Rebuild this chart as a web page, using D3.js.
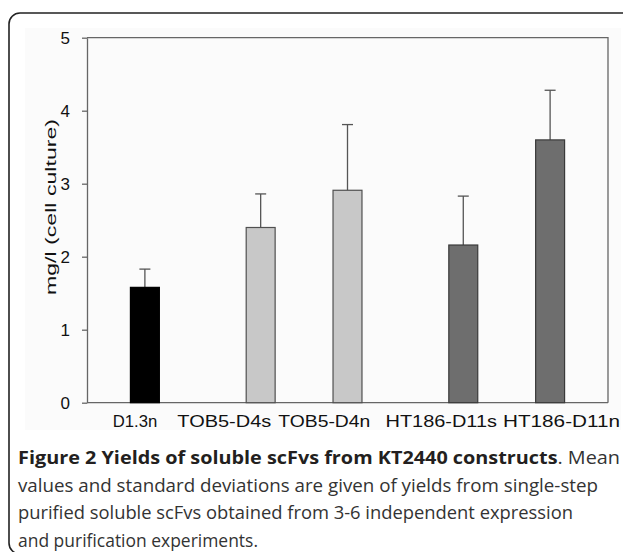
<!DOCTYPE html>
<html><head><meta charset="utf-8">
<script src="https://cdn.jsdelivr.net/npm/d3@7"></script>
<style>html,body{margin:0;padding:0;background:#fff;}svg{display:block;}</style>
</head><body>
<script>
// ---- data ----
const categories = ["D1.3n", "TOB5-D4s", "TOB5-D4n", "HT186-D11s", "HT186-D11n"];
const groups = ["D1.3", "TOB5", "HT186"];
const groupOf = [0, 1, 1, 2, 2];
const means = [1.58, 2.40, 2.91, 2.16, 3.60];
const sds = [0.25, 0.46, 0.90, 0.67, 0.68];
const yTicks = [0, 1, 2, 3, 4, 5];
const yLabel = "mg/l (cell culture)";
const captionBold = "Figure 2 Yields of soluble scFvs from KT2440 constructs";
const captionLines = [
  ". Mean",
  "values and standard deviations are given of yields from single-step",
  "purified soluble scFvs obtained from 3-6 independent expression",
  "and purification experiments."
];

// ---- layout ----
const W = 623, H = 552;
const plot = {left: 87, right: 608, top: 37.7, bottom: 402.7};
const groupFill = ["#000000", "#c8c8c8", "#6e6e6e"];
const groupStroke = ["#000000", "#505050", "#3a3a3a"];
const labelBoxes = [[112.7, 44.5], [177.3, 94], [278.3, 92], [385.5, 111.5], [503, 117]];
const captionWidths = [602, 580, 555, 240];

const svg = d3.select("body").append("svg").attr("width", W).attr("height", H);

// outer frame
svg.append("rect").attr("x", 9).attr("y", 13).attr("width", 700).attr("height", 541)
  .attr("rx", 11).attr("fill", "#fff").attr("stroke", "#222").attr("stroke-width", 1.6);
// chart background
svg.append("rect").attr("x", 25).attr("y", 28).attr("width", 596).attr("height", 402).attr("fill", "#fbfbfb");

const y = d3.scaleLinear().domain([0, 5]).range([plot.bottom, plot.top]);
const slots = d3.scaleLinear().domain([0, 18]).range([plot.left, plot.right]);
const bw = slots(1) - slots(0);
const slotOf = (i) => 1.5 + 3 * i + groupOf[i];

// plot border (top, right)
svg.append("path")
  .attr("d", `M${plot.left},${plot.top}H${plot.right}V${plot.bottom}`)
  .attr("fill", "none").attr("stroke", "#666").attr("stroke-width", 1.3);

// y axis
const ya = svg.append("g").attr("transform", `translate(${plot.left},0)`)
  .call(d3.axisLeft(y).tickValues(yTicks).tickFormat(d3.format("d")).tickSize(5).tickSizeOuter(0).tickPadding(12));
ya.select(".domain").attr("stroke", "#666").attr("stroke-width", 1.3);
ya.selectAll(".tick line").attr("stroke", "#666").attr("stroke-width", 1.3);
ya.selectAll(".tick text").attr("fill", "#111").attr("font-family", "Liberation Sans, Arial, sans-serif").attr("font-size", 17);

// x baseline
svg.append("line").attr("x1", plot.left).attr("x2", plot.right).attr("y1", y(0)).attr("y2", y(0))
  .attr("stroke", "#666").attr("stroke-width", 1.3);

// error bars
const eg = svg.append("g").attr("stroke", "#555").attr("stroke-width", 1.3);
categories.forEach((c, i) => {
  const cx = slots(slotOf(i)) + bw / 2;
  eg.append("line").attr("x1", cx).attr("x2", cx).attr("y1", y(means[i])).attr("y2", y(means[i] + sds[i]));
  eg.append("line").attr("x1", cx - 5.5).attr("x2", cx + 5.5).attr("y1", y(means[i] + sds[i])).attr("y2", y(means[i] + sds[i]));
});

// bars
svg.append("g").selectAll("rect").data(categories).join("rect")
  .attr("x", (d, i) => slots(slotOf(i)))
  .attr("y", (d, i) => y(means[i]))
  .attr("width", bw)
  .attr("height", (d, i) => y(0) - y(means[i]))
  .attr("fill", (d, i) => groupFill[groupOf[i]])
  .attr("stroke", (d, i) => groupStroke[groupOf[i]])
  .attr("stroke-width", 1.2);

// x labels
svg.append("g").selectAll("text").data(categories).join("text")
  .attr("x", (d, i) => labelBoxes[i][0])
  .attr("y", 426.7)
  .attr("textLength", (d, i) => labelBoxes[i][1])
  .attr("lengthAdjust", "spacingAndGlyphs")
  .attr("font-family", "Liberation Sans, Arial, sans-serif")
  .attr("font-size", 16.5).attr("fill", "#111")
  .text(d => d);

// y label
svg.append("text")
  .attr("transform", "translate(56,207) rotate(-90)")
  .attr("text-anchor", "middle")
  .attr("textLength", 176).attr("lengthAdjust", "spacingAndGlyphs")
  .attr("font-family", "Liberation Sans, Arial, sans-serif")
  .attr("font-size", 14.5).attr("fill", "#111")
  .text(yLabel);

// caption
const cap = svg.append("g").attr("font-family", "Open Sans, sans-serif").attr("font-size", 17.5);
const t1 = cap.append("text").attr("x", 18).attr("y", 464)
  .attr("textLength", captionWidths[0]).attr("lengthAdjust", "spacingAndGlyphs");
t1.append("tspan").attr("font-weight", "bold").attr("fill", "#231f20").text(captionBold);
t1.append("tspan").attr("fill", "#333").text(captionLines[0]);
captionLines.slice(1).forEach((l, k) => {
  cap.append("text").attr("x", 18).attr("y", 491.6 + 27.6 * k).attr("fill", "#333")
    .attr("textLength", captionWidths[k + 1]).attr("lengthAdjust", "spacingAndGlyphs")
    .text(l);
});
</script>
</body></html>
